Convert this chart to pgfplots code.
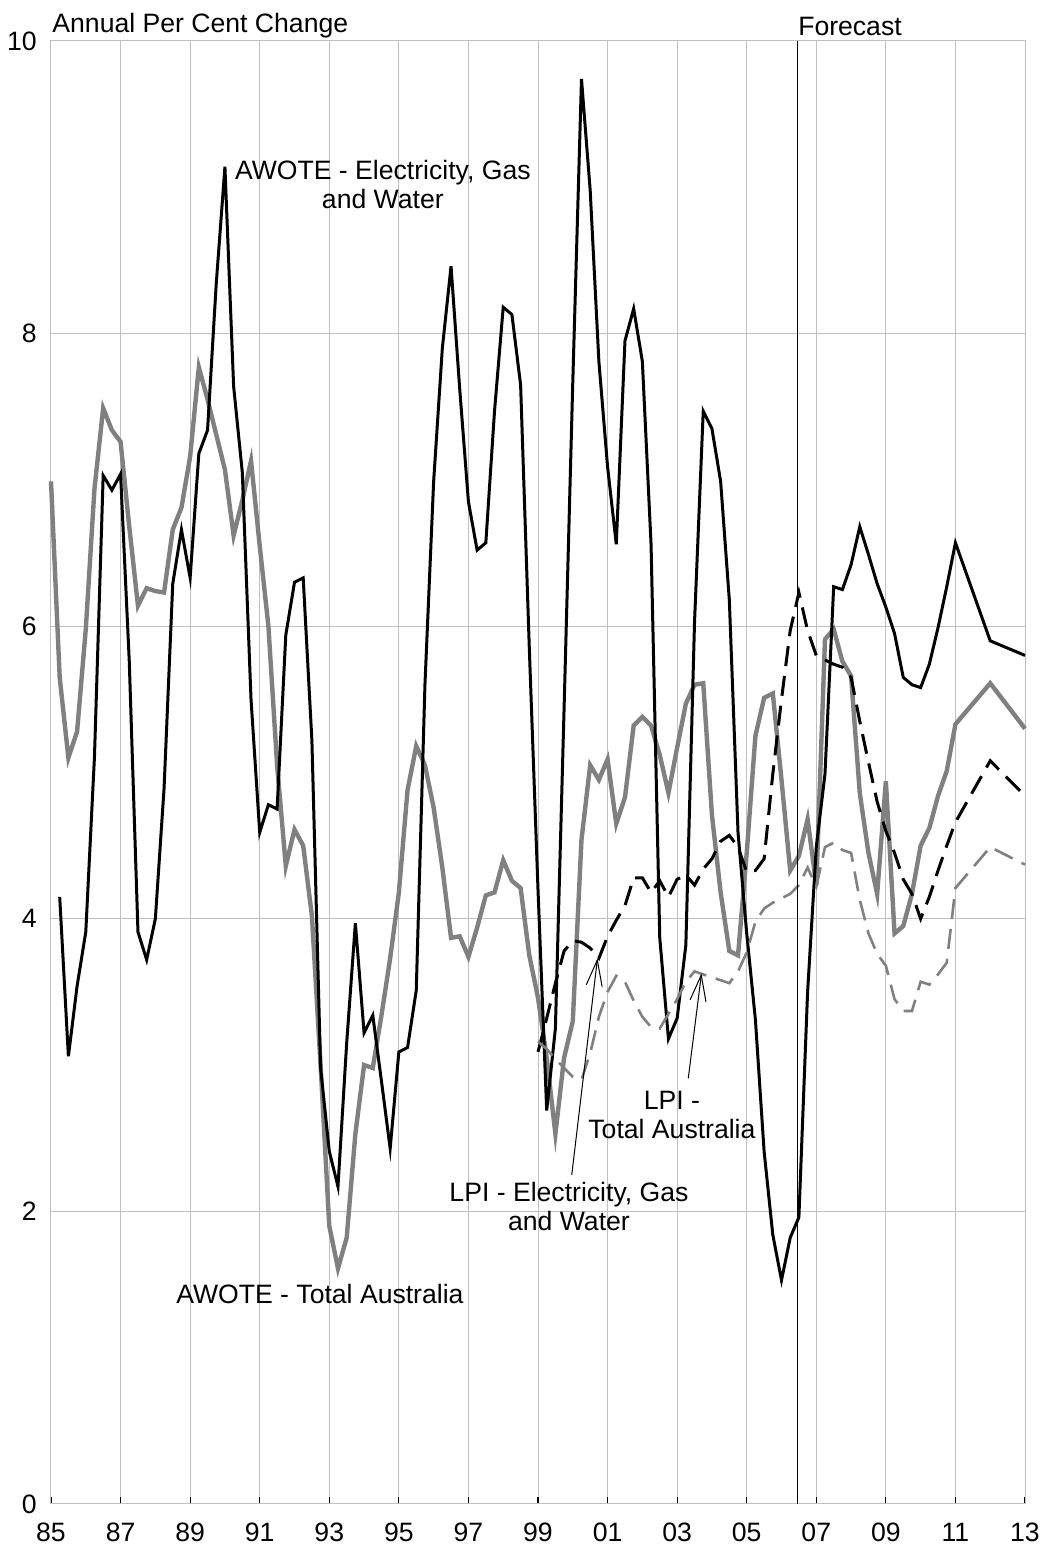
\documentclass[border=0pt]{standalone}
\usepackage{fontspec}
\setmainfont{Liberation Sans}
\usepackage{pgfplots}
\usepackage{pgfplotstable}
\pgfplotsset{compat=1.18}
\usetikzlibrary{arrows.meta}

\definecolor{gridgray}{RGB}{192,192,192}
\definecolor{sergray}{RGB}{128,128,128}

% AWOTE - Electricity, Gas and Water
\pgfplotstableread{
year val
1985.25 4.15
1985.50 3.06
1985.75 3.54
1986.00 3.91
1986.25 5.11
1986.50 7.03
1986.75 6.93
1987.00 7.04
1987.25 5.76
1987.50 3.91
1987.75 3.72
1988.00 4.00
1988.25 4.89
1988.50 6.29
1988.75 6.66
1989.00 6.33
1989.25 7.18
1989.50 7.34
1989.75 8.34
1990.00 9.14
1990.25 7.64
1990.50 7.05
1990.75 5.50
1991.00 4.59
1991.25 4.78
1991.50 4.75
1991.75 5.94
1992.00 6.30
1992.25 6.33
1992.50 5.22
1992.75 2.98
1993.00 2.41
1993.25 2.17
1993.50 3.15
1993.75 3.97
1994.00 3.22
1994.25 3.34
1994.50 2.89
1994.75 2.43
1995.00 3.09
1995.25 3.12
1995.50 3.51
1995.75 5.60
1996.00 6.99
1996.25 7.90
1996.50 8.46
1996.75 7.62
1997.00 6.85
1997.25 6.52
1997.50 6.57
1997.75 7.47
1998.00 8.18
1998.25 8.13
1998.50 7.65
1998.75 5.85
1999.00 4.20
1999.25 2.69
1999.50 3.25
1999.75 5.44
2000.00 7.67
2000.25 9.74
2000.50 8.98
2000.75 7.81
2001.00 7.09
2001.25 6.56
2001.50 7.95
2001.75 8.17
2002.00 7.81
2002.25 6.56
2002.50 3.87
2002.75 3.18
2003.00 3.32
2003.25 3.82
2003.50 6.03
2003.75 7.47
2004.00 7.35
2004.25 6.99
2004.50 6.18
2004.75 4.59
2005.00 3.90
2005.25 3.31
2005.50 2.41
2005.75 1.84
2006.00 1.53
2006.25 1.82
2006.50 1.96
2006.75 3.50
2007.00 4.49
2007.25 4.99
2007.50 6.27
2007.75 6.25
2008.00 6.42
2008.25 6.68
2008.50 6.49
2008.75 6.29
2009.00 6.13
2009.25 5.95
2009.50 5.65
2009.75 5.60
2010.00 5.58
2010.25 5.74
2010.50 5.99
2010.75 6.27
2011.00 6.57
2012.00 5.90
2013.00 5.80
}\awoteegw

% AWOTE - Total Australia
\pgfplotstableread{
year val
1985.00 6.99
1985.25 5.65
1985.50 5.10
1985.75 5.28
1986.00 5.98
1986.25 6.94
1986.50 7.49
1986.75 7.34
1987.00 7.26
1987.25 6.68
1987.50 6.14
1987.75 6.26
1988.00 6.24
1988.25 6.23
1988.50 6.66
1988.75 6.81
1989.00 7.16
1989.25 7.77
1989.50 7.55
1989.75 7.31
1990.00 7.07
1990.25 6.62
1990.50 6.86
1990.75 7.13
1991.00 6.55
1991.25 6.00
1991.50 5.05
1991.75 4.36
1992.00 4.61
1992.25 4.50
1992.50 4.02
1992.75 3.00
1993.00 1.90
1993.25 1.61
1993.50 1.82
1993.75 2.53
1994.00 3.00
1994.25 2.98
1994.50 3.34
1994.75 3.73
1995.00 4.18
1995.25 4.88
1995.50 5.18
1995.75 5.05
1996.00 4.76
1996.25 4.35
1996.50 3.87
1996.75 3.88
1997.00 3.74
1997.25 3.94
1997.50 4.16
1997.75 4.18
1998.00 4.40
1998.25 4.26
1998.50 4.21
1998.75 3.75
1999.00 3.46
1999.25 3.05
1999.50 2.53
1999.75 3.05
2000.00 3.30
2000.25 4.54
2000.50 5.05
2000.75 4.95
2001.00 5.09
2001.25 4.65
2001.50 4.83
2001.75 5.32
2002.00 5.38
2002.25 5.32
2002.50 5.12
2002.75 4.86
2003.00 5.17
2003.25 5.47
2003.50 5.60
2003.75 5.61
2004.00 4.71
2004.25 4.18
2004.50 3.78
2004.75 3.75
2005.00 4.45
2005.25 5.25
2005.50 5.51
2005.75 5.54
2006.00 4.95
2006.25 4.33
2006.50 4.43
2006.75 4.68
2007.00 4.23
2007.25 5.91
2007.50 5.98
2007.75 5.76
2008.00 5.66
2008.25 4.86
2008.50 4.45
2008.75 4.17
2009.00 4.94
2009.25 3.90
2009.50 3.95
2009.75 4.17
2010.00 4.50
2010.25 4.62
2010.50 4.84
2010.75 5.01
2011.00 5.33
2012.00 5.61
2013.00 5.30
}\awotetot

% LPI - Electricity, Gas and Water
\pgfplotstableread{
year val
1999.00 3.09
1999.25 3.32
1999.50 3.56
1999.75 3.78
2000.00 3.85
2000.25 3.84
2000.50 3.80
2000.75 3.73
2001.00 3.88
2001.25 3.99
2001.50 4.09
2001.75 4.28
2002.00 4.28
2002.25 4.18
2002.50 4.26
2002.75 4.15
2003.00 4.27
2003.25 4.30
2003.50 4.23
2003.75 4.34
2004.00 4.41
2004.25 4.53
2004.50 4.57
2004.75 4.49
2005.00 4.32
2005.25 4.33
2005.50 4.41
2005.75 4.99
2006.00 5.50
2006.25 5.97
2006.50 6.23
2006.75 5.97
2007.00 5.80
2007.25 5.77
2007.50 5.74
2007.75 5.72
2008.00 5.65
2008.25 5.35
2008.50 5.07
2008.75 4.80
2009.00 4.60
2009.25 4.45
2009.50 4.27
2009.75 4.17
2010.00 4.00
2010.25 4.15
2010.50 4.33
2010.75 4.50
2011.00 4.66
2012.00 5.08
2013.00 4.84
}\lpiegw

% LPI - Total Australia
\pgfplotstableread{
year val
1999.00 3.16
1999.25 3.11
1999.50 3.04
1999.75 2.98
2000.00 2.92
2000.25 2.90
2000.50 3.08
2000.75 3.33
2001.00 3.50
2001.25 3.61
2001.50 3.57
2001.75 3.44
2002.00 3.33
2002.25 3.26
2002.50 3.25
2002.75 3.35
2003.00 3.45
2003.25 3.57
2003.50 3.64
2003.75 3.62
2004.00 3.60
2004.25 3.58
2004.50 3.56
2004.75 3.64
2005.00 3.77
2005.25 3.98
2005.50 4.07
2005.75 4.11
2006.00 4.14
2006.25 4.17
2006.50 4.23
2006.75 4.35
2007.00 4.22
2007.25 4.49
2007.50 4.52
2007.75 4.47
2008.00 4.45
2008.25 4.13
2008.50 3.90
2008.75 3.76
2009.00 3.68
2009.25 3.45
2009.50 3.37
2009.75 3.37
2010.00 3.57
2010.25 3.55
2010.50 3.62
2010.75 3.70
2011.00 4.21
2012.00 4.49
2013.00 4.37
}\lpitot

\begin{document}
\begin{tikzpicture}[font=\fontsize{13.3}{14.5}\selectfont]
\begin{axis}[
    at={(0,0)}, anchor=south west,
    scale only axis, width=487pt, height=731.5pt,
    xmin=1985, xmax=2013, ymin=0, ymax=10,
    xtick={1985,1987,...,2013},
    xticklabels={85,87,89,91,93,95,97,99,01,03,05,07,09,11,13},
    ytick={0,2,...,10},
    grid=major,
    major grid style={gridgray, line width=0.5pt},
    axis line style={gridgray, line width=0.5pt},
    tick align=inside, major tick length=3.5pt,
    xtick pos=bottom, ytick pos=left,
    ytick style={draw=none},
    xtick style={black, line width=0.6pt},
    tick label style={font=\fontsize{13.3}{14.5}\selectfont},
    xticklabel style={anchor=north, inner sep=0pt, yshift=-9.5pt},
    yticklabel style={anchor=east, inner sep=0pt, xshift=-7pt},
    /pgf/number format/assume math mode=true,
    clip=false,
]
\addplot[sergray, line width=2.2pt] table[x=year, y=val] {\awotetot};
\addplot[black, line width=1.5pt] table[x=year, y=val] {\awoteegw};
\addplot[black, line width=1.5pt, dash pattern=on 10pt off 5pt] table[x=year, y=val] {\lpiegw};
\addplot[sergray, line width=1.3pt, dash pattern=on 10pt off 5pt] table[x=year, y=val] {\lpitot};

% forecast divider
\addplot[black, line width=0.6pt] coordinates {(2006.45,0) (2006.45,10)};

\node[anchor=north west, inner sep=0pt] at (axis cs:1985.03,10.19) {Annual Per Cent Change};
\node[anchor=north west, inner sep=0pt] at (axis cs:2006.47,10.164) {Forecast};
\node[anchor=north, inner sep=0pt, align=center] at (axis cs:1994.54,9.187)
    {AWOTE - Electricity, Gas\\and Water};
\node[anchor=north, inner sep=0pt] at (axis cs:1992.73,1.504) {AWOTE - Total Australia};
\node[anchor=north, inner sep=0pt, align=center] at (axis cs:1999.89,2.203)
    {LPI - Electricity, Gas\\and Water};
\node[anchor=north, inner sep=0pt, align=center] at (axis cs:2002.85,2.825)
    {LPI -\\Total Australia};

\draw[black, line width=0.5pt, -{Straight Barb[length=13pt, width=8pt]}]
    (axis cs:1999.97,2.249) -- (axis cs:2000.71,3.730);
\draw[black, line width=0.5pt, -{Straight Barb[length=13pt, width=8pt]}]
    (axis cs:2003.32,2.910) -- (axis cs:2003.70,3.627);
\end{axis}
\pgfresetboundingbox
\path[use as bounding box] (-25.5pt,-23pt) rectangle (497pt,752pt);
\end{tikzpicture}
\end{document}
